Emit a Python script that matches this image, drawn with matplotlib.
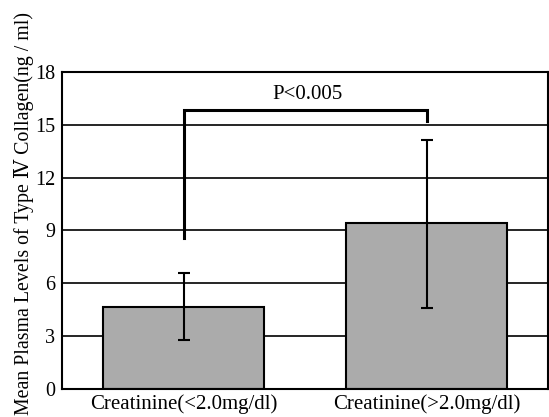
import matplotlib
matplotlib.use("Agg")
import matplotlib.pyplot as plt
from matplotlib.transforms import ScaledTranslation

categories = ["Creatinine(<2.0mg/dl)", "Creatinine(>2.0mg/dl)"]
means = [4.65, 9.4]
err_low = [2.8, 4.6]
err_high = [6.6, 14.15]
yticks = [0, 3, 6, 9, 12, 15, 18]
p_text = "P<0.005"
bracket_left_start = 8.6
bracket_top = 15.85
bracket_right_end = 15.2

plt.rcParams['font.family'] = ['Liberation Serif', 'DejaVu Serif']

fig = plt.figure(figsize=(5.49, 4.17), dpi=100)
ax = fig.add_axes([62/549, (417-389)/417, (548-62)/549, (389-72)/417])

x = list(range(len(categories)))
for y in yticks[1:-1]:
    ax.axhline(y, color='black', lw=1.2, zorder=1)
ax.bar(x, means, width=0.66, color='#ababab', edgecolor='black', lw=1.5, zorder=2)
yerr = [[m - lo for m, lo in zip(means, err_low)], [hi - m for m, hi in zip(means, err_high)]]
ax.errorbar(x, means, yerr=yerr, fmt='none', ecolor='black', elinewidth=1.5, capsize=4, capthick=1.5, zorder=3)

ax.plot([0, 0, 1, 1], [bracket_left_start, bracket_top, bracket_top, bracket_right_end],
        color='black', lw=2.2, zorder=3, solid_joinstyle='miter')
ax.text(0.51, 16.75, p_text, ha='center', va='center', fontsize=15)

ax.set_xlim(-0.5, 1.5)
ax.set_ylim(0, 18)
ax.set_yticks(yticks)
ax.set_yticklabels([str(t) for t in yticks], fontsize=14.5)
ax.set_xticks(x)
ax.set_xticklabels(categories, fontsize=15)
for lab, dx in zip(ax.get_xticklabels(), [5, 13]):
    lab.set_transform(lab.get_transform() + ScaledTranslation(dx / 100, 0, fig.dpi_scale_trans))
ax.tick_params(length=0)
ax.tick_params(axis='y', pad=5)
ax.tick_params(axis='x', pad=4)
for s in ax.spines.values():
    s.set_linewidth(1.5)
ax.set_ylabel("Mean Plasma Levels of Type Ⅳ Collagen(ng / ml)", fontsize=14.3)
ax.yaxis.set_label_coords(-0.058, 0.555)

fig.savefig("out.png", dpi=100)
